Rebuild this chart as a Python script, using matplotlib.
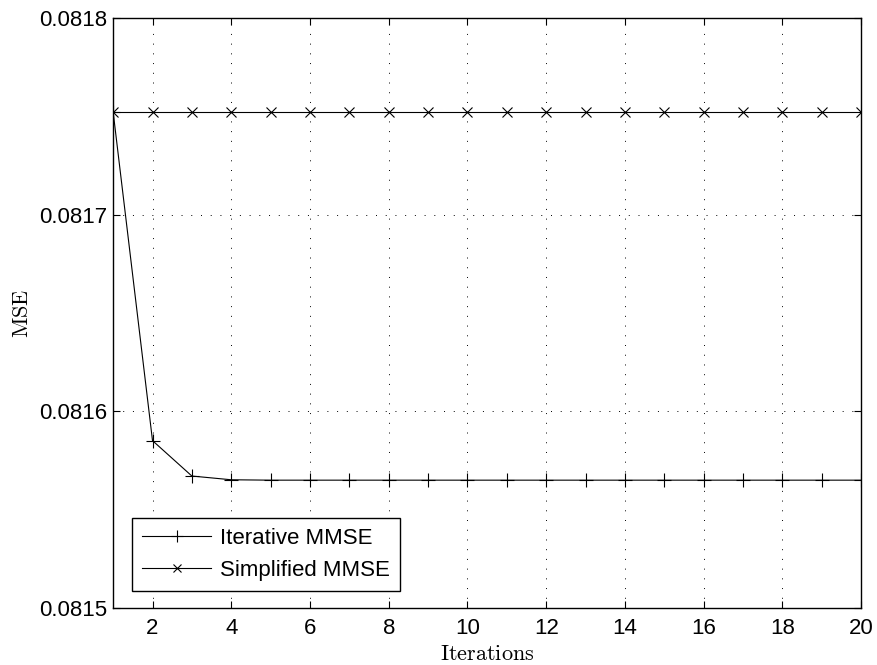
import numpy as np
import matplotlib.pyplot as plt

iterations = np.arange(1, 21)
iterative_mmse = [0.0817522, 0.0815851, 0.0815671, 0.0815652, 0.0815650,
                  0.0815650, 0.0815650, 0.0815650, 0.0815650, 0.0815650,
                  0.0815650, 0.0815650, 0.0815650, 0.0815650, 0.0815650,
                  0.0815650, 0.0815650, 0.0815650, 0.0815650, 0.0815650]
simplified_mmse = [0.0817522] * 20

yticks = [0.0815, 0.0816, 0.0817, 0.0818]
xticks = list(range(2, 21, 2))

plt.rcParams['font.family'] = 'Liberation Sans'
plt.rcParams['mathtext.fontset'] = 'cm'

fig = plt.figure(figsize=(8.77, 6.65), dpi=100)
ax = fig.add_axes([0.129, 0.0857, 0.853, 0.8873])

ax.plot(iterations, iterative_mmse, color='black', lw=0.8, marker='+',
        ms=9.5, mew=0.8, label='Iterative MMSE')
ax.plot(iterations, simplified_mmse, color='black', lw=0.8, marker='x',
        ms=7.5, mew=0.8, label='Simplified MMSE')

ax.set_xlim(1, 20)
ax.set_ylim(0.0815, 0.0818)
ax.set_xticks(xticks)
ax.set_yticks(yticks)
ax.set_yticklabels([f'{v:.4f}' for v in yticks])
ax.tick_params(direction='in', top=True, right=True, labelsize=16, length=5,
               width=0.8)
ax.tick_params(axis='x', pad=7)
ax.tick_params(axis='y', pad=4)
ax.grid(True, linestyle=(0, (1, 9)), color='black', lw=0.7)
for s in ax.spines.values():
    s.set_linewidth(1.0)

ax.set_xlabel(r'$\mathrm{Iterations}$', fontsize=16, labelpad=4)
ax.set_ylabel(r'$\mathrm{MSE}$', fontsize=16, labelpad=5)

leg = ax.legend(loc='lower left', bbox_to_anchor=(0.0254, 0.0288), fontsize=16,
                fancybox=False, framealpha=1, edgecolor='black',
                handlelength=3.1, borderpad=0.45, labelspacing=0.5,
                handletextpad=0.4, borderaxespad=0)
leg.get_frame().set_linewidth(1.0)
for h, ms in zip(leg.legend_handles, [8, 5.5]):
    h.set_markersize(ms)

fig.savefig('out.png', dpi=100)
